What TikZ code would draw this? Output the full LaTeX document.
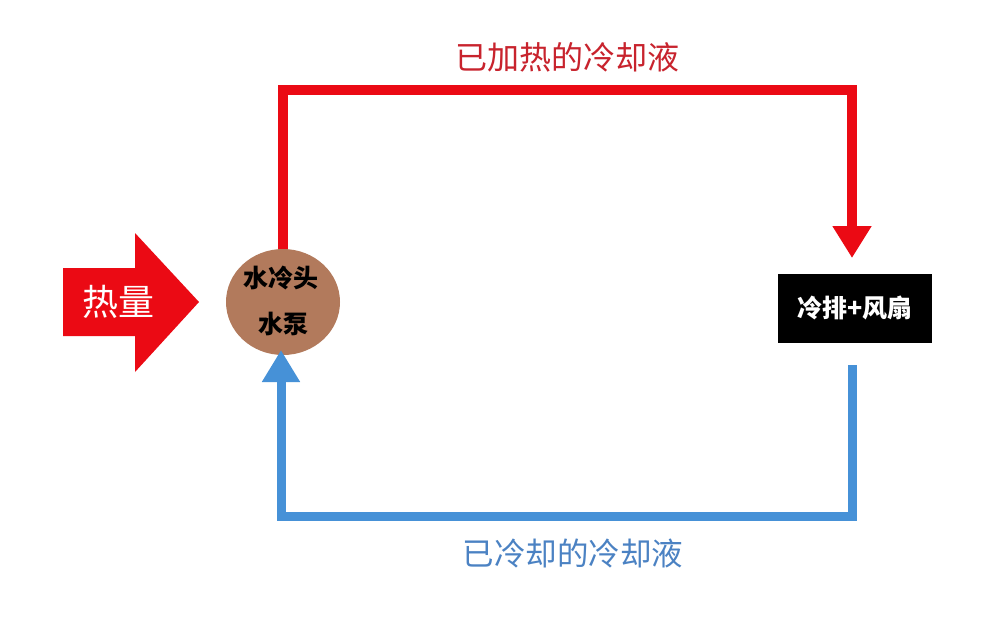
\documentclass[tikz,border=0pt]{standalone}
\usepackage{fontspec}
\newfontfamily\cjk{Noto Sans CJK SC}
\usetikzlibrary{arrows.meta,positioning,shapes.geometric}
\definecolor{hotred}{RGB}{235,10,20}
\definecolor{labelred}{RGB}{200,35,45}
\definecolor{coolblue}{RGB}{70,145,215}
\definecolor{labelblue}{RGB}{75,130,195}
\definecolor{pumpbrown}{RGB}{178,122,92}
\tikzset{
    hotpipe/.style={draw=hotred,line width=10pt,-{Triangle[width=37pt,length=32pt]}},
    coolpipe/.style={draw=coolblue,line width=9pt,-{Triangle[width=36pt,length=32pt]}},
}
\begin{document}
\begin{tikzpicture}[x=1pt,y=-1pt]
        % Draw white page
        \useasboundingbox[fill=white] (0,0) rectangle (1004,630);
        % Draw big heat arrow
        \fill[hotred] (63,268) -- (135,268) -- (135,233) -- (199,302) -- (135,372) -- (135,336) -- (63,336) -- cycle;
        \node[text=white,font=\cjk\fontsize{36}{40}\selectfont] (heat) at (118,302) {热量};
        % Draw pump
        \node[ellipse,fill=pumpbrown,minimum width=114pt,minimum height=106pt,inner sep=0pt] (pump) at (283,302) {};
        \node[font=\cjk\bfseries\fontsize{25}{28}\selectfont] (pumpa) at (281,278) {水冷头};
        \node[font=\cjk\bfseries\fontsize{25}{28}\selectfont] (pumpb) at (283,324) {水泵};
        % Draw radiator
        \node[fill=black,text=white,minimum width=154pt,minimum height=69pt,font=\cjk\bfseries\fontsize{25}{28}\selectfont] (rad) at (855,308) {冷排+风扇};
        % Draw hot loop
        \coordinate (hotend) at (852,258);
        \draw[hotpipe] (pump.north) -- (283,90) -- (852,90) -- (hotend);
        \node[text=labelred,font=\cjk\fontsize{32}{36}\selectfont] (hotlabel) at (567,57) {已加热的冷却液};
        % Draw cool loop
        \coordinate (coolstart) at (852,365);
        \coordinate (coolend) at (281,350);
        \draw[coolpipe] (coolstart) -- (852,516) -- (281,516) -- (coolend);
        \node[text=labelblue,font=\cjk\fontsize{31.5}{36}\selectfont] (coollabel) at (573,553) {已冷却的冷却液};
\end{tikzpicture}
\end{document}
